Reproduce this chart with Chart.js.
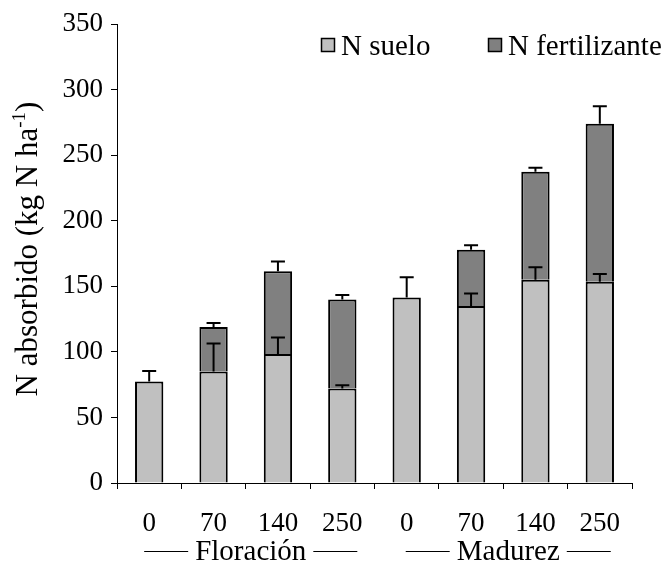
<!DOCTYPE html>
<html>
<head>
<meta charset="utf-8">
<script src="https://cdn.jsdelivr.net/npm/chart.js@4/dist/chart.umd.min.js"></script>
<style>
  body { margin: 0; background: #fff; }
  canvas { display: block; }
</style>
</head>
<body>
<canvas id="grafico" width="665" height="564"></canvas>
<script>
// ---- Datos: N absorbido (kg N/ha) por dosis de N y etapa ----
const dosis = ['0', '70', '140', '250', '0', '70', '140', '250'];
const etapas = ['Floración', 'Madurez'];
const nSuelo = [77.5, 85, 98.5, 72, 141.5, 135, 155, 153.5];
const nFertilizante = [0, 34, 63, 68, 0, 43, 82.5, 120.5];
// error (solo hacia arriba) de cada segmento
const errSuelo = [8, 21.5, 12.5, 2.5, 15.5, 9.5, 9.5, 6];
const errTotal = [0, 3, 7.5, 3.5, 0, 3.3, 3, 13.5];
const ticksY = { min: 0, max: 350, paso: 50 };

const FUENTE = '"Liberation Serif", "Times New Roman", serif';

// barras de error con tope horizontal
const barrasError = {
    id: 'barrasError',
    afterDatasetsDraw(chart) {
        const ctx = chart.ctx;
        const y = chart.scales.y;
        const errores = [errSuelo, errTotal];
        ctx.save();
        ctx.strokeStyle = '#000';
        ctx.lineWidth = 2;
        chart.data.datasets.forEach((ds, i) => {
            const meta = chart.getDatasetMeta(i);
            meta.data.forEach((bar, j) => {
                const err = errores[i][j];
                if (!err || ds.data[j] == null) return;
                const tope = i === 0 ? nSuelo[j] : nSuelo[j] + nFertilizante[j];
                const yFin = y.getPixelForValue(tope + err);
                const yIni = y.getPixelForValue(tope);
                ctx.beginPath();
                ctx.moveTo(bar.x, yIni);
                ctx.lineTo(bar.x, yFin);
                ctx.moveTo(bar.x - 7, yFin);
                ctx.lineTo(bar.x + 7, yFin);
                ctx.stroke();
            });
        });
        ctx.restore();
    }
};

// leyenda, título del eje Y y etiquetas de etapa
const textos = {
    id: 'textos',
    afterDraw(chart) {
        const ctx = chart.ctx;
        const x = chart.scales.x;
        ctx.save();
        ctx.fillStyle = '#000';

        // leyenda
        const posLeyenda = [321, 488];
        chart.data.datasets.forEach((ds, i) => {
            const bx = posLeyenda[i];
            ctx.fillStyle = ds.backgroundColor;
            ctx.fillRect(bx, 38, 14, 14);
            ctx.strokeStyle = '#000';
            ctx.lineWidth = 1.5;
            ctx.strokeRect(bx + 0.5, 38.5, 13, 13);
            ctx.fillStyle = '#000';
            ctx.font = '29px ' + FUENTE;
            ctx.textAlign = 'left';
            ctx.textBaseline = 'alphabetic';
            ctx.fillText(ds.label, bx + 20, 55);
        });

        // título eje Y con superíndice
        ctx.save();
        ctx.translate(37, 249);
        ctx.rotate(-Math.PI / 2);
        const t1 = 'N absorbido (kg N ha';
        const sup = '-1';
        const t3 = ')';
        ctx.font = '31px ' + FUENTE;
        const w1 = ctx.measureText(t1).width;
        const w3 = ctx.measureText(t3).width;
        ctx.font = '19px ' + FUENTE;
        const w2 = ctx.measureText(sup).width;
        let px = -(w1 + w2 + w3) / 2;
        ctx.textAlign = 'left';
        ctx.textBaseline = 'alphabetic';
        ctx.font = '31px ' + FUENTE;
        ctx.fillText(t1, px, 0);
        px += w1;
        ctx.font = '19px ' + FUENTE;
        ctx.fillText(sup, px, -12);
        px += w2;
        ctx.font = '31px ' + FUENTE;
        ctx.fillText(t3, px, 0);
        ctx.restore();

        // etapas con líneas a cada lado
        ctx.font = '29px ' + FUENTE;
        ctx.textAlign = 'center';
        ctx.textBaseline = 'alphabetic';
        ctx.strokeStyle = '#000';
        ctx.lineWidth = 1;
        const n = dosis.length / etapas.length;
        etapas.forEach((et, g) => {
            const cx = (x.getPixelForValue(g * n) + x.getPixelForValue(g * n + n - 1)) / 2 + 5;
            const w = ctx.measureText(et).width;
            ctx.fillText(et, cx, 560);
            ctx.beginPath();
            ctx.moveTo(cx - w / 2 - 7, 551.5);
            ctx.lineTo(cx - w / 2 - 51, 551.5);
            ctx.moveTo(cx + w / 2 + 7, 551.5);
            ctx.lineTo(cx + w / 2 + 51, 551.5);
            ctx.stroke();
        });
        ctx.restore();
    }
};

new Chart(document.getElementById('grafico'), {
    type: 'bar',
    data: {
        labels: dosis,
        datasets: [
            { label: 'N suelo', data: nSuelo, backgroundColor: '#c0c0c0' },
            { label: 'N fertilizante', data: nFertilizante.map(v => v || null), backgroundColor: '#808080' }
        ]
    },
    options: {
        responsive: false,
        animation: false,
        layout: { padding: { top: 22, right: 33, bottom: 0, left: 0 } },
        datasets: {
            bar: { borderColor: '#000', borderWidth: 2, barPercentage: 0.44, categoryPercentage: 1 }
        },
        plugins: { legend: { display: false }, tooltip: { enabled: false } },
        scales: {
            x: {
                stacked: true,
                offset: true,
                grid: { offset: true, drawOnChartArea: false, tickLength: 6, color: '#000' },
                border: { color: '#000', width: 1 },
                ticks: { color: '#000', font: { family: FUENTE, size: 27 }, padding: 19, maxRotation: 0 },
                afterFit(s) { s.height = 81; }
            },
            y: {
                stacked: true,
                min: ticksY.min,
                max: ticksY.max,
                grid: { drawOnChartArea: false, tickLength: 6, color: '#000' },
                border: { color: '#000', width: 1 },
                ticks: { stepSize: ticksY.paso, color: '#000', font: { family: FUENTE, size: 27 }, padding: 8 },
                afterFit(s) { s.width = 117; }
            }
        }
    },
    plugins: [barrasError, textos]
});
</script>
</body>
</html>
